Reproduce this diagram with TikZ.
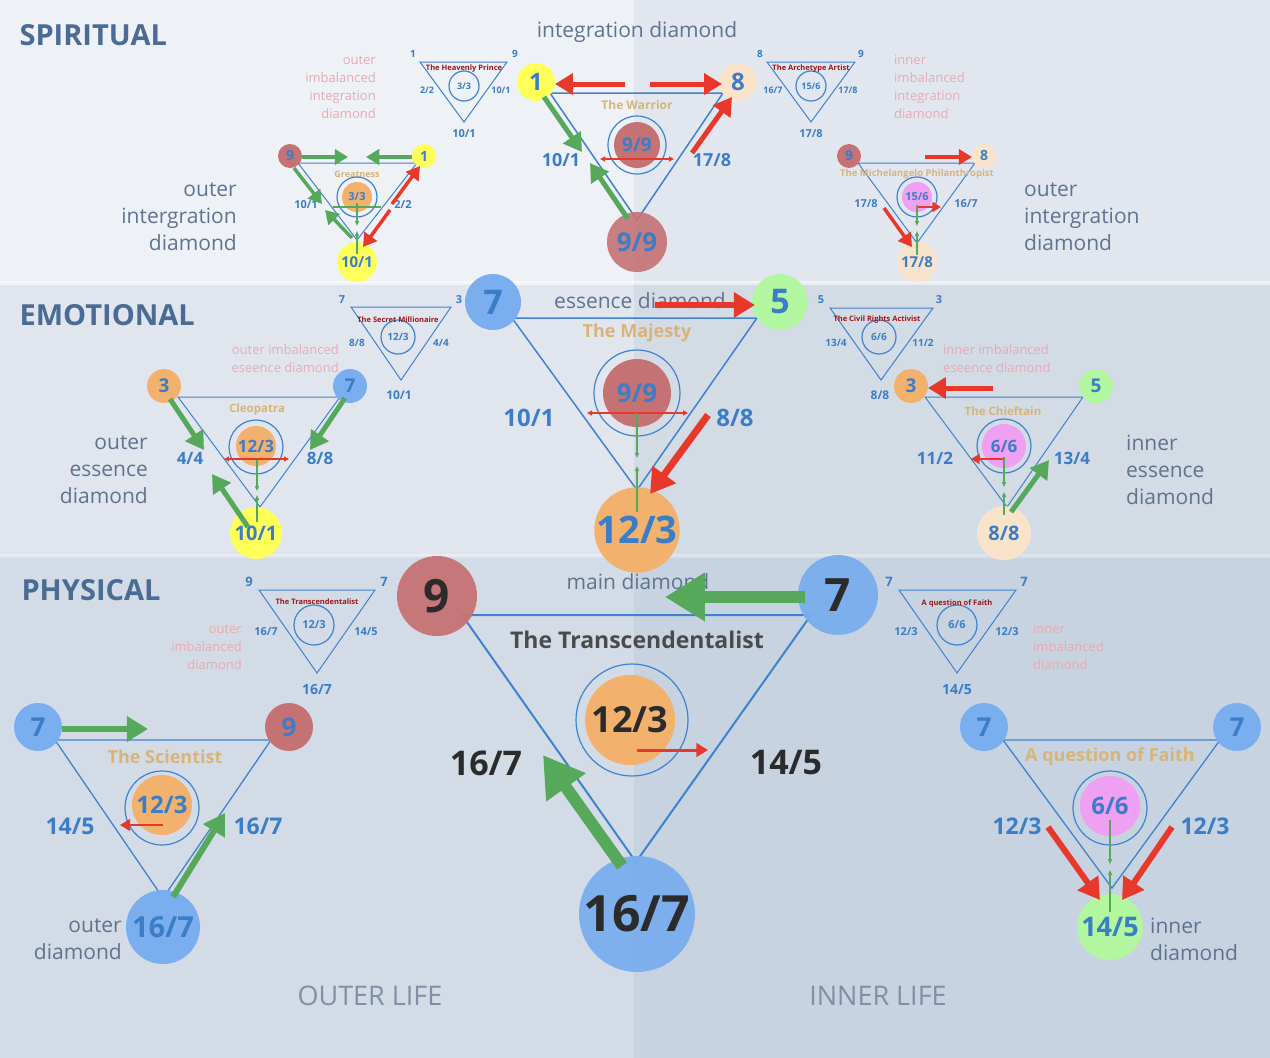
\documentclass[tikz,border=0pt]{standalone}
\usepackage{fontspec}
\setmainfont{Open Sans}
\usetikzlibrary{arrows.meta}
\definecolor{bgA}{HTML}{EEF1F6}\definecolor{bgB}{HTML}{E2E7EF}
\definecolor{bgC}{HTML}{E1E6EE}\definecolor{bgD}{HTML}{D3DBE5}
\definecolor{bgE}{HTML}{D3DCE6}\definecolor{bgF}{HTML}{C7D3E0}
\definecolor{numblue}{HTML}{3B7DC6}\definecolor{tri}{HTML}{3F82CF}
\definecolor{cblue}{HTML}{7AAEEE}\definecolor{cred}{HTML}{C57275}
\definecolor{corange}{HTML}{F2B26E}\definecolor{cyellow}{HTML}{FFFF5A}
\definecolor{cpeach}{HTML}{FAE3CB}\definecolor{cgreen}{HTML}{B2F7A0}
\definecolor{cpink}{HTML}{EFA0F2}\definecolor{ared}{HTML}{E8382B}
\definecolor{agreen}{HTML}{56A85B}\definecolor{tan}{HTML}{D8B477}
\definecolor{pinkt}{HTML}{E9A9B2}\definecolor{greyt}{HTML}{5F7390}
\definecolor{dred}{HTML}{A01515}\definecolor{secblue}{HTML}{4A6C94}
\definecolor{darkt}{HTML}{2B2B2B}
\tikzset{
 cn/.style={circle,inner sep=0pt,minimum size=#1,text=numblue,font=\bfseries},
 ring/.style={circle,draw=tri,line width=1.2pt,inner sep=0pt,minimum size=#1},
 trl/.style={draw=tri,line width=1.5pt,line join=miter},
 trs/.style={draw=tri,line width=1pt},
 lab/.style={text=numblue,font=\bfseries,inner sep=0pt},
 ttl/.style={text=tan,font=\bfseries,inner sep=0pt},
 sttl/.style={text=dred,font=\bfseries\fontsize{7.5}{8}\selectfont,inner sep=0pt},
 pnk/.style={text=pinkt,align=#1,inner sep=0pt,font=\fontsize{13}{18}\selectfont},
 gry/.style={text=greyt,align=#1,inner sep=0pt,font=\fontsize{21}{27}\selectfont},
 garr/.style={agreen,line width=#1,-{Triangle}},
 rarr/.style={ared,line width=#1,-{Triangle}},
 rdbl/.style={ared,line width=1.6pt,{Triangle[length=5pt,width=5pt]}-{Triangle[length=5pt,width=5pt]}},
 gtip/.style={agreen,line width=1.6pt,-{Triangle[length=5pt,width=4pt]}},
}
\begin{document}
\begin{tikzpicture}[x=1pt,y=-1pt]
\useasboundingbox (0,0) rectangle (1270,1058);
% backgrounds
\fill[bgA] (0,0) rectangle (634,283);
\fill[bgB] (634,0) rectangle (1270,283);
\fill[bgC] (0,283) rectangle (634,556);
\fill[bgD] (634,283) rectangle (1270,556);
\fill[bgE] (0,556) rectangle (634,1058);
\fill[bgF] (634,556) rectangle (1270,1058);
\fill[white,opacity=0.5] (0,281) rectangle (1270,285);
\fill[white,opacity=0.3] (0,554) rectangle (1270,558);

% section titles
\node[anchor=west,text=secblue,font=\bfseries\fontsize{29}{30}\selectfont] (tsp) at (16,35) {SPIRITUAL};
\node[anchor=west,text=secblue,font=\bfseries\fontsize{29}{30}\selectfont] (tem) at (16,315) {EMOTIONAL};
\node[anchor=west,text=secblue,font=\bfseries\fontsize{29}{30}\selectfont] (tph) at (18,590) {PHYSICAL};
\node[text=greyt!80,font=\fontsize{27}{30}\selectfont] (ol) at (370,996) {OUTER LIFE};
\node[text=greyt!80,font=\fontsize{27}{30}\selectfont] (il) at (878,996) {INNER LIFE};

%================ SPIRITUAL
\node[gry=center] (intd) at (637,32) {integration diamond};
% Heavenly Prince
\draw[trs] (420,62) -- (507,62) -- (464,122) -- cycle;
\node[ring=30pt] (hp) at (464,86) {};
\node[lab,font=\bfseries\fontsize{9}{9}\selectfont] at (hp) {3/3};
\node[sttl] (hpt) at (464,69) {The Heavenly Prince};
\node[lab,font=\bfseries\fontsize{10}{10}\selectfont] at (413,54) {1};
\node[lab,font=\bfseries\fontsize{10}{10}\selectfont] at (515,54) {9};
\node[lab,font=\bfseries\fontsize{9}{9}\selectfont] at (427,90) {2/2};
\node[lab,font=\bfseries\fontsize{9}{9}\selectfont] at (501,90) {10/1};
\node[lab,font=\bfseries\fontsize{11}{11}\selectfont] at (464,134) {10/1};
\node[pnk=right,anchor=east] (p1) at (376,87) {outer\\imbalanced\\integration\\diamond};
% Warrior
\draw[trl] (550,93) -- (723,93) -- (637,220) -- cycle;
\node[cn=38pt,fill=cyellow,font=\bfseries\fontsize{24}{24}\selectfont] (w1) at (536,82) {1};
\node[cn=38pt,fill=cpeach,font=\bfseries\fontsize{24}{24}\selectfont] (w8) at (738,82) {8};
\node[cn=60pt,fill=cred,fill opacity=0.9,text opacity=1,font=\bfseries\fontsize{26}{26}\selectfont] (w99) at (637,242) {9/9};
\node[ttl,font=\bfseries\fontsize{12}{12}\selectfont] (wt) at (637,105) {The Warrior};
\node[ring=58pt] (wr) at (637,145) {};
\node[cn=46pt,fill=cred,font=\bfseries\fontsize{19}{19}\selectfont] (wc) at (637,145) {9/9};
\draw[rdbl] (600,159) -- (674,159);
\node[lab,font=\bfseries\fontsize{18}{18}\selectfont] at (561,160) {10/1};
\node[lab,font=\bfseries\fontsize{18}{18}\selectfont] at (712,160) {17/8};
\draw[rarr=5pt] (625,84) -- (555,84);
\draw[rarr=5pt] (650,84) -- (722,84);
\draw[garr=5pt] (544,97) -- (582,152);
\draw[garr=5pt] (628,219) -- (590,163);
\draw[rarr=5pt] (692,153) -- (732,97);
% Archetype Artist
\draw[trs] (767,62) -- (855,62) -- (811,122) -- cycle;
\node[ring=30pt] (aa) at (811,86) {};
\node[lab,font=\bfseries\fontsize{9}{9}\selectfont] at (aa) {15/6};
\node[sttl] at (811,69) {The Archetype Artist};
\node[lab,font=\bfseries\fontsize{10}{10}\selectfont] at (760,54) {8};
\node[lab,font=\bfseries\fontsize{10}{10}\selectfont] at (861,54) {9};
\node[lab,font=\bfseries\fontsize{9}{9}\selectfont] at (773,90) {16/7};
\node[lab,font=\bfseries\fontsize{9}{9}\selectfont] at (848,90) {17/8};
\node[lab,font=\bfseries\fontsize{11}{11}\selectfont] at (811,134) {17/8};
\node[pnk=left,anchor=west] (p2) at (894,87) {inner\\imbalanced\\integration\\diamond};
% Greatness
\draw[trs] (298,163) -- (417,163) -- (357,240) -- cycle;
\node[cn=24pt,fill=cred,font=\bfseries\fontsize{14}{14}\selectfont] (g9) at (290,156) {9};
\node[cn=24pt,fill=cyellow,font=\bfseries\fontsize{14}{14}\selectfont] (g1) at (424,156) {1};
\node[cn=40pt,fill=cyellow,font=\bfseries\fontsize{15}{15}\selectfont] (g10) at (357,262) {10/1};
\node[ttl,font=\bfseries\fontsize{9}{9}\selectfont] at (357,174) {Greatness};
\node[ring=40pt] at (357,197) {};
\node[cn=30pt,fill=corange,font=\bfseries\fontsize{11}{11}\selectfont] (gc) at (357,197) {3/3};
\draw[agreen,line width=1.3pt] (333,207) -- (381,207);
\draw[gtip] (357,203) -- (357,226);
\draw[gtip] (357,254) -- (357,231);
\node[lab,font=\bfseries\fontsize{11}{11}\selectfont] at (306,205) {10/1};
\node[lab,font=\bfseries\fontsize{11}{11}\selectfont] at (403,205) {2/2};
\draw[garr=3.5pt] (302,157) -- (348,157);
\draw[garr=3.5pt] (412,157) -- (366,157);
\draw[garr=3.5pt] (294,168) -- (322,204);
\draw[garr=3.5pt] (352,238) -- (325,210);
\draw[rarr=3.5pt] (392,204) -- (420,166);
\draw[rarr=3.5pt] (390,210) -- (363,247);
\node[gry=right,anchor=east] (g1t) at (237,217) {outer\\intergration\\diamond};
% Michelangelo
\draw[trs] (858,163) -- (975,163) -- (917,243) -- cycle;
\node[cn=24pt,fill=cred,font=\bfseries\fontsize{14}{14}\selectfont] (m9) at (849,156) {9};
\node[cn=24pt,fill=cpeach,font=\bfseries\fontsize{14}{14}\selectfont] (m8) at (984,156) {8};
\node[cn=40pt,fill=cpeach,font=\bfseries\fontsize{15}{15}\selectfont] (m17) at (917,262) {17/8};
\node[ttl,font=\bfseries\fontsize{9.5}{9.5}\selectfont] at (917,174) {The Michelangelo Philanthropist};
\node[ring=40pt] at (917,197) {};
\node[cn=30pt,fill=cpink,font=\bfseries\fontsize{11}{11}\selectfont] (mc) at (917,197) {15/6};
\draw[rarr=2pt] (917,207) -- (941,207);
\draw[gtip] (917,205) -- (917,226);
\draw[gtip] (917,255) -- (917,231);
\draw[rarr=3.5pt] (925,157) -- (972,157);
\draw[rarr=3.5pt] (884,208) -- (912,247);
\node[lab,font=\bfseries\fontsize{11}{11}\selectfont] at (866,204) {17/8};
\node[lab,font=\bfseries\fontsize{11}{11}\selectfont] at (966,204) {16/7};
\node[gry=left,anchor=west] (g2t) at (1024,217) {outer\\intergration\\diamond};

%================ EMOTIONAL
% Majesty
\node[gry=center] (ess) at (640,301) {essence diamond};
\draw[trl] (512,318) -- (757,318) -- (637,490) -- cycle;
\node[cn=56pt,fill=cblue,font=\bfseries\fontsize{34}{34}\selectfont] (e7) at (493,302) {7};
\node[cn=56pt,fill=cgreen,font=\bfseries\fontsize{34}{34}\selectfont] (e5) at (780,302) {5};
\node[cn=84pt,fill=corange,font=\bfseries\fontsize{38}{38}\selectfont] (e12) at (637,530) {12/3};
\node[ttl,font=\bfseries\fontsize{18}{18}\selectfont] at (637,333) {The Majesty};
\node[ring=86pt] at (637,393) {};
\node[cn=68pt,fill=cred,font=\bfseries\fontsize{26}{26}\selectfont] (ec) at (637,393) {9/9};
\draw[rdbl] (587,413) -- (688,413);
\draw[gtip] (637,413) -- (637,458);
\draw[gtip] (637,512) -- (637,466);
\draw[rarr=6pt] (655,305) -- (755,305);
\draw[rarr=7pt] (708,415) -- (650,494);
\node[lab,font=\bfseries\fontsize{24}{24}\selectfont] at (529,418) {10/1};
\node[lab,font=\bfseries\fontsize{24}{24}\selectfont] at (735,418) {8/8};
% Secret Millionaire
\draw[trs] (351,307) -- (451,307) -- (401,380) -- cycle;
\node[ring=34pt] (sm) at (398,337) {};
\node[lab,font=\bfseries\fontsize{10}{10}\selectfont] at (sm) {12/3};
\node[sttl] at (398,320) {The Secret Millionaire};
\node[lab,font=\bfseries\fontsize{11}{11}\selectfont] at (342,300) {7};
\node[lab,font=\bfseries\fontsize{11}{11}\selectfont] at (459,300) {3};
\node[lab,font=\bfseries\fontsize{10}{10}\selectfont] at (357,343) {8/8};
\node[lab,font=\bfseries\fontsize{10}{10}\selectfont] at (441,343) {4/4};
\node[lab,font=\bfseries\fontsize{12}{12}\selectfont] at (399,395) {10/1};
\node[pnk=right,anchor=east] (p3) at (339,359) {outer imbalanced\\eseence diamond};
% Cleopatra
\draw[trs] (178,397) -- (340,397) -- (260,507) -- cycle;
\node[cn=34pt,fill=corange,font=\bfseries\fontsize{19}{19}\selectfont] (c3) at (164,386) {3};
\node[cn=34pt,fill=cblue,font=\bfseries\fontsize{19}{19}\selectfont] (c7) at (350,386) {7};
\node[cn=52pt,fill=cyellow,font=\bfseries\fontsize{20}{20}\selectfont] (c10) at (256,533) {10/1};
\node[ttl,font=\bfseries\fontsize{11.5}{12}\selectfont] at (257,410) {Cleopatra};
\node[ring=54pt] at (256,447) {};
\node[cn=40pt,fill=corange,font=\bfseries\fontsize{17}{17}\selectfont] (cc) at (256,446) {12/3};
\draw[rdbl] (224,459) -- (289,459);
\draw[gtip] (257,460) -- (257,491);
\draw[gtip] (257,522) -- (257,495);
\draw[garr=5pt] (170,399) -- (204,450);
\draw[garr=5pt] (248,527) -- (212,474);
\draw[garr=5pt] (345,398) -- (310,450);
\node[lab,font=\bfseries\fontsize{17}{17}\selectfont] at (190,458) {4/4};
\node[lab,font=\bfseries\fontsize{17}{17}\selectfont] at (320,458) {8/8};
\node[gry=right,anchor=east] (g3t) at (148,470) {outer\\essence\\diamond};
% Civil Rights
\draw[trs] (830,308) -- (933,308) -- (881,380) -- cycle;
\node[ring=34pt] (cr) at (879,337) {};
\node[lab,font=\bfseries\fontsize{10}{10}\selectfont] at (cr) {6/6};
\node[sttl] at (877,320) {The Civil Rights Activist};
\node[lab,font=\bfseries\fontsize{11}{11}\selectfont] at (821,300) {5};
\node[lab,font=\bfseries\fontsize{11}{11}\selectfont] at (939,300) {3};
\node[lab,font=\bfseries\fontsize{10}{10}\selectfont] at (836,343) {13/4};
\node[lab,font=\bfseries\fontsize{10}{10}\selectfont] at (923,343) {11/2};
\node[lab,font=\bfseries\fontsize{12}{12}\selectfont] at (880,395) {8/8};
\node[pnk=left,anchor=west] (p4) at (943,359) {inner imbalanced\\eseence diamond};
% Chieftain
\draw[trs] (925,397) -- (1083,397) -- (1007,507) -- cycle;
\node[cn=34pt,fill=corange,font=\bfseries\fontsize{19}{19}\selectfont] (h3) at (911,386) {3};
\node[cn=34pt,fill=cgreen,font=\bfseries\fontsize{19}{19}\selectfont] (h5) at (1096,386) {5};
\node[cn=54pt,fill=cpeach,font=\bfseries\fontsize{20}{20}\selectfont] (h8) at (1004,533) {8/8};
\node[ttl,font=\bfseries\fontsize{11.5}{12}\selectfont] at (1003,411) {The Chieftain};
\node[ring=54pt] at (1004,446) {};
\node[cn=44pt,fill=cpink,font=\bfseries\fontsize{17}{17}\selectfont] (hc) at (1004,446) {6/6};
\draw[rarr=2pt] (1004,459) -- (971,459);
\draw[gtip] (1004,457) -- (1004,487);
\draw[gtip] (1004,515) -- (1004,492);
\draw[rarr=5pt] (993,388) -- (928,388);
\draw[garr=5pt] (1011,512) -- (1049,460);
\node[lab,font=\bfseries\fontsize{17}{17}\selectfont] at (935,458) {11/2};
\node[lab,font=\bfseries\fontsize{17}{17}\selectfont] at (1072,458) {13/4};
\node[gry=left,anchor=west] (g4t) at (1126,470) {inner\\essence\\diamond};

%================ PHYSICAL
\node[gry=center] (mdl) at (638,582) {main diamond};
\draw[trl,line width=2pt] (462,615) -- (811,615) -- (636,862) -- cycle;
\node[cn=80pt,fill=cred,fill opacity=0.95,text opacity=1,text=darkt,font=\bfseries\fontsize{46}{46}\selectfont] (p9) at (437,596) {9};
\node[cn=80pt,fill=cblue,fill opacity=0.95,text opacity=1,text=darkt,font=\bfseries\fontsize{46}{46}\selectfont] (p7) at (838,595) {7};
\node[cn=116pt,fill=cblue,fill opacity=0.95,text opacity=1,text=darkt,font=\bfseries\fontsize{50}{50}\selectfont] (p16) at (637,914) {16/7};
\node[text=darkt!85,font=\bfseries\fontsize{23}{23}\selectfont] at (637,640) {The Transcendentalist};
\node[ring=112pt] at (632,720) {};
\node[cn=90pt,fill=corange,text=darkt,font=\bfseries\fontsize{36}{36}\selectfont] (pc) at (630,720) {12/3};
\draw[rarr=3pt] (637,750) -- (708,750);
\draw[garr=12pt] (805,597) -- (665,597);
\draw[garr=12pt] (622,866) -- (543,755);
\node[text=darkt,font=\bfseries\fontsize{34}{34}\selectfont] at (486,763) {16/7};
\node[text=darkt,font=\bfseries\fontsize{34}{34}\selectfont] at (786,763) {14/5};
% Transcendentalist small
\draw[trs] (259,590) -- (375,590) -- (317,673) -- cycle;
\node[ring=40pt] (ts) at (314,625) {};
\node[lab,font=\bfseries\fontsize{11}{11}\selectfont] at (ts) {12/3};
\node[sttl] at (317,602) {The Transcendentalist};
\node[lab,font=\bfseries\fontsize{13}{13}\selectfont] at (249,582) {9};
\node[lab,font=\bfseries\fontsize{13}{13}\selectfont] at (384,582) {7};
\node[lab,font=\bfseries\fontsize{11}{11}\selectfont] at (266,632) {16/7};
\node[lab,font=\bfseries\fontsize{11}{11}\selectfont] at (366,632) {14/5};
\node[lab,font=\bfseries\fontsize{14}{14}\selectfont] at (317,690) {16/7};
\node[pnk=right,anchor=east] (p5) at (242,647) {outer\\imbalanced\\diamond};
% Scientist
\draw[trs,line width=1.3pt] (55,740) -- (271,740) -- (163,898) -- cycle;
\node[cn=48pt,fill=cblue,font=\bfseries\fontsize{26}{26}\selectfont] (s7) at (38,727) {7};
\node[cn=48pt,fill=cred,font=\bfseries\fontsize{26}{26}\selectfont] (s9) at (289,727) {9};
\node[cn=74pt,fill=cblue,font=\bfseries\fontsize{29}{29}\selectfont] (s16) at (163,927) {16/7};
\node[ttl,font=\bfseries\fontsize{18}{18}\selectfont] at (165,757) {The Scientist};
\node[ring=74pt] at (162,808) {};
\node[cn=60pt,fill=corange,font=\bfseries\fontsize{24}{24}\selectfont] (sc) at (162,805) {12/3};
\draw[rarr=2.5pt] (163,825) -- (120,825);
\draw[garr=6pt] (62,729) -- (148,729);
\draw[garr=6pt] (173,897) -- (225,813);
\node[lab,font=\bfseries\fontsize{23}{23}\selectfont] at (70,826) {14/5};
\node[lab,font=\bfseries\fontsize{23}{23}\selectfont] at (258,826) {16/7};
\node[gry=right,anchor=east] (g5t) at (122,939) {outer\\diamond};
% Faith small
\draw[trs] (899,590) -- (1016,590) -- (957,673) -- cycle;
\node[ring=40pt] (fs) at (957,625) {};
\node[lab,font=\bfseries\fontsize{11}{11}\selectfont] at (fs) {6/6};
\node[sttl] at (957,604) {A question of Faith};
\node[lab,font=\bfseries\fontsize{13}{13}\selectfont] at (889,582) {7};
\node[lab,font=\bfseries\fontsize{13}{13}\selectfont] at (1024,582) {7};
\node[lab,font=\bfseries\fontsize{11}{11}\selectfont] at (906,632) {12/3};
\node[lab,font=\bfseries\fontsize{11}{11}\selectfont] at (1007,632) {12/3};
\node[lab,font=\bfseries\fontsize{14}{14}\selectfont] at (957,690) {14/5};
\node[pnk=left,anchor=west] (p6) at (1033,647) {inner\\imbalanced\\diamond};
% Faith big
\draw[trs,line width=1.3pt] (1003,740) -- (1220,740) -- (1112,888) -- cycle;
\node[cn=48pt,fill=cblue,font=\bfseries\fontsize{26}{26}\selectfont] (f7a) at (984,727) {7};
\node[cn=48pt,fill=cblue,font=\bfseries\fontsize{26}{26}\selectfont] (f7b) at (1237,727) {7};
\node[cn=66pt,fill=cgreen,font=\bfseries\fontsize{27}{27}\selectfont] (f14) at (1110,927) {14/5};
\node[ttl,font=\bfseries\fontsize{18}{18}\selectfont] at (1110,757) {A question of Faith};
\node[ring=74pt] at (1110,808) {};
\node[cn=60pt,fill=cpink,font=\bfseries\fontsize{24}{24}\selectfont] (fc) at (1110,806) {6/6};
\draw[gtip] (1110,820) -- (1110,864);
\draw[gtip] (1110,912) -- (1110,870);
\draw[rarr=6pt] (1048,827) -- (1100,900);
\draw[rarr=6pt] (1172,827) -- (1122,900);
\node[lab,font=\bfseries\fontsize{23}{23}\selectfont] at (1017,826) {12/3};
\node[lab,font=\bfseries\fontsize{23}{23}\selectfont] at (1205,826) {12/3};
\node[gry=left,anchor=west] (g6t) at (1150,939) {inner\\diamond};
\end{tikzpicture}
\end{document}
